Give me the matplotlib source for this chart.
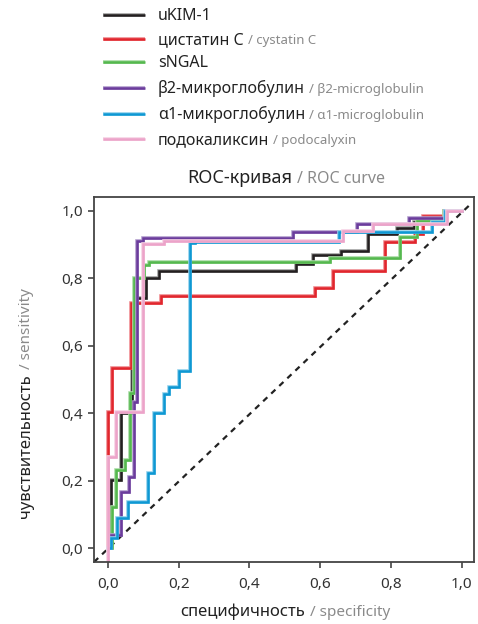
import matplotlib
matplotlib.use('Agg')
import matplotlib.pyplot as plt
import matplotlib.patheffects as pe
from matplotlib.lines import Line2D

FONT = ['Noto Sans', 'DejaVu Sans']
plt.rcParams['font.family'] = FONT

# ---------------- data ----------------
series_ru = ['uKIM-1', 'цистатин C', 'sNGAL', 'β2-микроглобулин', 'α1-микроглобулин', 'подокаликсин']
series_en = ['', 'cystatin C', '', 'β2-microglobulin', 'α1-microglobulin', 'podocalyxin']
colors = ['#231f20', '#e1262d', '#55b84e', '#6b3c9c', '#0e98d3', '#eca3c9']
halo = ['#a0a0a0', '#f08a8e', '#a8dca4', '#b19ccd', '#8fd0ec', '#f6d2e4']

fpr_ukim = [0.0, 0.008, 0.036, 0.067, 0.078, 0.108, 0.144, 0.532, 0.579, 0.658, 0.736, 0.816, 0.864, 0.95, 1.0]
tpr_ukim = [0.0, 0.202, 0.400, 0.528, 0.741, 0.800, 0.822, 0.842, 0.869, 0.882, 0.932, 0.949, 0.968, 1.0, 1.0]

fpr_cys = [0.0, 0.0, 0.010, 0.064, 0.149, 0.584, 0.637, 0.784, 0.867, 0.892, 0.949, 1.0]
tpr_cys = [0.0, 0.403, 0.535, 0.726, 0.748, 0.771, 0.822, 0.907, 0.931, 0.985, 1.0, 1.0]

fpr_ngal = [0.0, 0.010, 0.024, 0.049, 0.061, 0.074, 0.102, 0.116, 0.628, 0.826, 0.873, 0.949, 1.0]
tpr_ngal = [0.0, 0.123, 0.230, 0.260, 0.460, 0.802, 0.840, 0.850, 0.861, 0.924, 0.970, 1.0, 1.0]

fpr_b2m = [0.0, 0.008, 0.037, 0.060, 0.073, 0.081, 0.099, 0.524, 0.703, 0.850, 0.953, 1.0]
tpr_b2m = [0.0, 0.040, 0.167, 0.212, 0.432, 0.912, 0.921, 0.939, 0.960, 0.980, 1.0, 1.0]

fpr_a1m = [0.0, 0.008, 0.025, 0.057, 0.114, 0.129, 0.158, 0.173, 0.201, 0.233, 0.245, 0.652, 0.916, 0.953, 1.0]
tpr_a1m = [0.0, 0.029, 0.088, 0.137, 0.224, 0.402, 0.457, 0.479, 0.526, 0.904, 0.909, 0.937, 0.968, 1.0, 1.0]

fpr_podo = [0.0, 0.0, 0.023, 0.098, 0.158, 0.665, 0.750, 0.958, 1.0]
tpr_podo = [-0.05, 0.271, 0.403, 0.901, 0.912, 0.942, 0.960, 1.0, 1.0]

curves = [(fpr_ukim, tpr_ukim), (fpr_cys, tpr_cys), (fpr_ngal, tpr_ngal),
          (fpr_b2m, tpr_b2m), (fpr_a1m, tpr_a1m), (fpr_podo, tpr_podo)]

ticks = [0.0, 0.2, 0.4, 0.6, 0.8, 1.0]
tick_labels = ['0,0', '0,2', '0,4', '0,6', '0,8', '1,0']

title_ru, title_en = 'ROC-кривая', 'ROC curve'
xlabel_ru, xlabel_en = 'специфичность', 'specificity'
ylabel_ru, ylabel_en = 'чувствительность', 'sensitivity'

# ---------------- figure ----------------
W, H = 478, 624
fig = plt.figure(figsize=(W / 100, H / 100), dpi=100)
DARK = '#222222'
GREY = '#8a8a8a'

ax = fig.add_axes([94 / W, 1 - 562 / H, 380 / W, 365 / H])
ax.set_xlim(-0.0396, 1.035)
ax.set_ylim(-0.0415, 1.0415)

ax.plot([-0.0396, 1.02], [-0.0415, 1.015], color='#222222', lw=1.6,
        dashes=(2.6, 2.4), zorder=1)

LW = 1.8
HALO = 0.8
for (fx, ty), c, h in zip(curves, colors, halo):
    ax.plot(fx, ty, drawstyle='steps-post', color=c, lw=LW, zorder=2,
            solid_joinstyle='miter',
            path_effects=[pe.Stroke(linewidth=LW + HALO, foreground=h), pe.Normal()])

ax.set_xticks(ticks)
ax.set_xticklabels(tick_labels)
ax.set_yticks(ticks)
ax.set_yticklabels(tick_labels)
ax.tick_params(direction='out', length=4, width=1.2, color='#444444',
               labelsize=11, labelcolor='#333333')
ax.tick_params(axis='x', pad=7)
ax.tick_params(axis='y', pad=4)
for s in ax.spines.values():
    s.set_linewidth(1.3)
    s.set_color('#444444')

fig.canvas.draw()
renderer = fig.canvas.get_renderer()


def two_tone(x_px, y_px, main, sub, size_main, size_sub, align='center', rotation=0, gap=5):
    """x_px, y_px: image pixel coords (y from top) of baseline anchor (center or start)."""
    kw = dict(ha='left', va='baseline', rotation=rotation, rotation_mode='anchor')
    t1 = fig.text(0, 0, main, fontsize=size_main, color=DARK, **kw)
    t2 = fig.text(0, 0, '/ ' + sub, fontsize=size_sub, color=GREY, **kw)
    b1 = t1.get_window_extent(renderer)
    b2 = t2.get_window_extent(renderer)
    if rotation == 0:
        l1, l2 = b1.width, b2.width
        total = l1 + gap + l2
        x0 = x_px - total / 2 if align == 'center' else x_px
        t1.set_position((x0 / W, 1 - y_px / H))
        t2.set_position(((x0 + l1 + gap) / W, 1 - y_px / H))
    else:
        l1, l2 = b1.height, b2.height
        total = l1 + gap + l2
        yb = (H - y_px) - total / 2 if align == 'center' else (H - y_px)
        t1.set_position((x_px / W, yb / H))
        t2.set_position((x_px / W, (yb + l1 + gap) / H))


# title and axis labels
two_tone(286, 183, title_ru, title_en, 13, 11.5)
two_tone(285, 616, xlabel_ru, xlabel_en, 12, 11)
two_tone(30, 403, ylabel_ru, ylabel_en, 12, 11, rotation=90)

# legend (manual, two-tone labels)
rows_y = [15, 39, 62, 88, 114, 139]
for name_ru, name_en, c, h, ry in zip(series_ru, series_en, colors, halo, rows_y):
    ln = Line2D([103 / W, 145 / W], [1 - ry / H, 1 - ry / H], transform=fig.transFigure,
                color=c, lw=LW, solid_capstyle='butt',
                path_effects=[pe.Stroke(linewidth=LW + HALO, foreground=h), pe.Normal()])
    fig.add_artist(ln)
    if name_en:
        two_tone(158, ry + 5, name_ru, name_en, 11.5, 9.5, align='left', gap=4)
    else:
        fig.text(158 / W, 1 - (ry + 5) / H, name_ru, fontsize=11.5, color=DARK,
                 ha='left', va='baseline')

fig.savefig('out.png', dpi=100)
